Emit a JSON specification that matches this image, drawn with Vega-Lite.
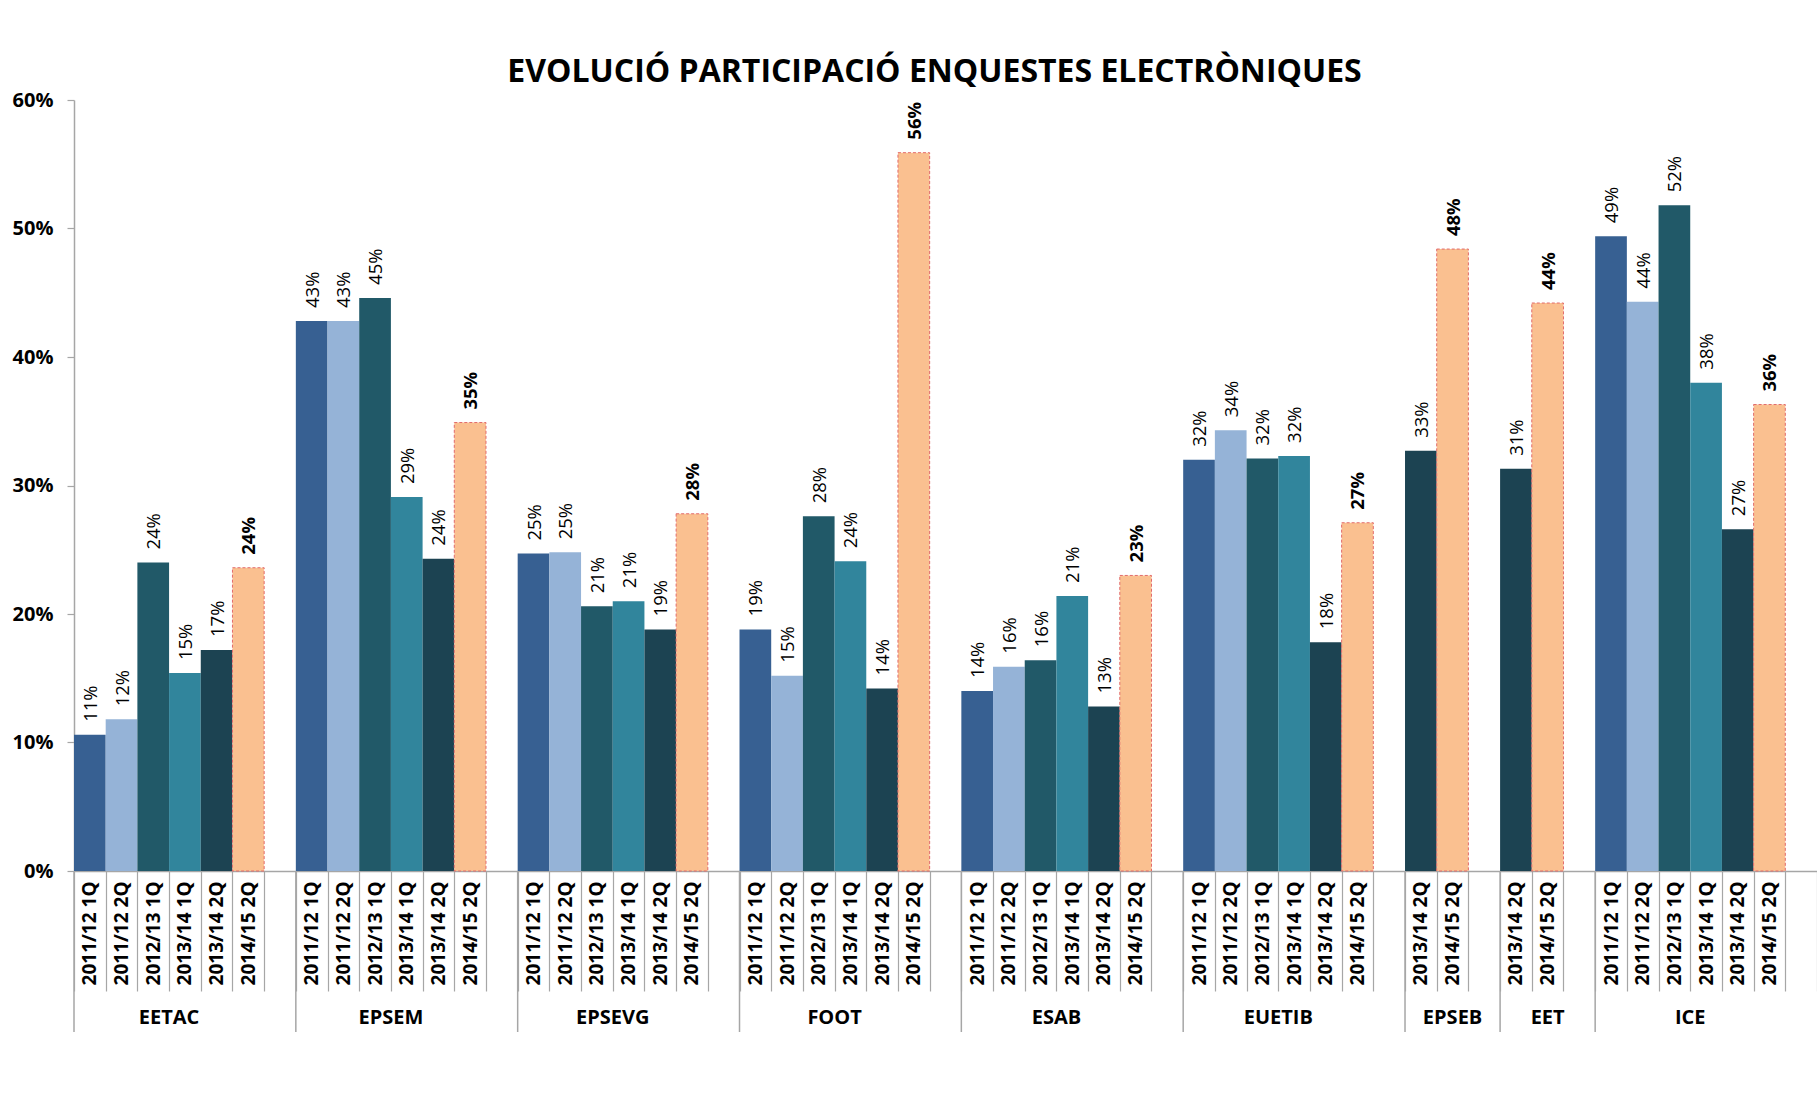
{
  "$schema": "https://vega.github.io/schema/vega-lite/v6.json",
  "width": 1743,
  "height": 771,
  "autosize": {"type": "none"},
  "padding": {"left": 74, "top": 100, "right": 0, "bottom": 226},
  "background": "white",
  "title": {
    "text": "EVOLUCIÓ PARTICIPACIÓ ENQUESTES ELECTRÒNIQUES",
    "font": "Open Sans", "fontSize": 32, "fontWeight": "bold", "color": "#000000",
    "anchor": "middle", "frame": "group", "baseline": "alphabetic", "offset": -24, "dx": -11
  },
  "config": {"view": {"stroke": null}, "font": "Open Sans"},
  "datasets": {
    "bars": [
      {"key": "EETAC|2011/12 1Q", "school": "EETAC", "period": "2011/12 1Q", "value": 0.106},
      {"key": "EETAC|2011/12 2Q", "school": "EETAC", "period": "2011/12 2Q", "value": 0.118},
      {"key": "EETAC|2012/13 1Q", "school": "EETAC", "period": "2012/13 1Q", "value": 0.240},
      {"key": "EETAC|2013/14 1Q", "school": "EETAC", "period": "2013/14 1Q", "value": 0.154},
      {"key": "EETAC|2013/14 2Q", "school": "EETAC", "period": "2013/14 2Q", "value": 0.172},
      {"key": "EETAC|2014/15 2Q", "school": "EETAC", "period": "2014/15 2Q", "value": 0.236},
      {"key": "EPSEM|2011/12 1Q", "school": "EPSEM", "period": "2011/12 1Q", "value": 0.428},
      {"key": "EPSEM|2011/12 2Q", "school": "EPSEM", "period": "2011/12 2Q", "value": 0.428},
      {"key": "EPSEM|2012/13 1Q", "school": "EPSEM", "period": "2012/13 1Q", "value": 0.446},
      {"key": "EPSEM|2013/14 1Q", "school": "EPSEM", "period": "2013/14 1Q", "value": 0.291},
      {"key": "EPSEM|2013/14 2Q", "school": "EPSEM", "period": "2013/14 2Q", "value": 0.243},
      {"key": "EPSEM|2014/15 2Q", "school": "EPSEM", "period": "2014/15 2Q", "value": 0.349},
      {"key": "EPSEVG|2011/12 1Q", "school": "EPSEVG", "period": "2011/12 1Q", "value": 0.247},
      {"key": "EPSEVG|2011/12 2Q", "school": "EPSEVG", "period": "2011/12 2Q", "value": 0.248},
      {"key": "EPSEVG|2012/13 1Q", "school": "EPSEVG", "period": "2012/13 1Q", "value": 0.206},
      {"key": "EPSEVG|2013/14 1Q", "school": "EPSEVG", "period": "2013/14 1Q", "value": 0.210},
      {"key": "EPSEVG|2013/14 2Q", "school": "EPSEVG", "period": "2013/14 2Q", "value": 0.188},
      {"key": "EPSEVG|2014/15 2Q", "school": "EPSEVG", "period": "2014/15 2Q", "value": 0.278},
      {"key": "FOOT|2011/12 1Q", "school": "FOOT", "period": "2011/12 1Q", "value": 0.188},
      {"key": "FOOT|2011/12 2Q", "school": "FOOT", "period": "2011/12 2Q", "value": 0.152},
      {"key": "FOOT|2012/13 1Q", "school": "FOOT", "period": "2012/13 1Q", "value": 0.276},
      {"key": "FOOT|2013/14 1Q", "school": "FOOT", "period": "2013/14 1Q", "value": 0.241},
      {"key": "FOOT|2013/14 2Q", "school": "FOOT", "period": "2013/14 2Q", "value": 0.142},
      {"key": "FOOT|2014/15 2Q", "school": "FOOT", "period": "2014/15 2Q", "value": 0.559},
      {"key": "ESAB|2011/12 1Q", "school": "ESAB", "period": "2011/12 1Q", "value": 0.140},
      {"key": "ESAB|2011/12 2Q", "school": "ESAB", "period": "2011/12 2Q", "value": 0.159},
      {"key": "ESAB|2012/13 1Q", "school": "ESAB", "period": "2012/13 1Q", "value": 0.164},
      {"key": "ESAB|2013/14 1Q", "school": "ESAB", "period": "2013/14 1Q", "value": 0.214},
      {"key": "ESAB|2013/14 2Q", "school": "ESAB", "period": "2013/14 2Q", "value": 0.128},
      {"key": "ESAB|2014/15 2Q", "school": "ESAB", "period": "2014/15 2Q", "value": 0.230},
      {"key": "EUETIB|2011/12 1Q", "school": "EUETIB", "period": "2011/12 1Q", "value": 0.320},
      {"key": "EUETIB|2011/12 2Q", "school": "EUETIB", "period": "2011/12 2Q", "value": 0.343},
      {"key": "EUETIB|2012/13 1Q", "school": "EUETIB", "period": "2012/13 1Q", "value": 0.321},
      {"key": "EUETIB|2013/14 1Q", "school": "EUETIB", "period": "2013/14 1Q", "value": 0.323},
      {"key": "EUETIB|2013/14 2Q", "school": "EUETIB", "period": "2013/14 2Q", "value": 0.178},
      {"key": "EUETIB|2014/15 2Q", "school": "EUETIB", "period": "2014/15 2Q", "value": 0.271},
      {"key": "EPSEB|2013/14 2Q", "school": "EPSEB", "period": "2013/14 2Q", "value": 0.327},
      {"key": "EPSEB|2014/15 2Q", "school": "EPSEB", "period": "2014/15 2Q", "value": 0.484},
      {"key": "EET|2013/14 2Q", "school": "EET", "period": "2013/14 2Q", "value": 0.313},
      {"key": "EET|2014/15 2Q", "school": "EET", "period": "2014/15 2Q", "value": 0.442},
      {"key": "ICE|2011/12 1Q", "school": "ICE", "period": "2011/12 1Q", "value": 0.494},
      {"key": "ICE|2011/12 2Q", "school": "ICE", "period": "2011/12 2Q", "value": 0.443},
      {"key": "ICE|2012/13 1Q", "school": "ICE", "period": "2012/13 1Q", "value": 0.518},
      {"key": "ICE|2013/14 1Q", "school": "ICE", "period": "2013/14 1Q", "value": 0.380},
      {"key": "ICE|2013/14 2Q", "school": "ICE", "period": "2013/14 2Q", "value": 0.266},
      {"key": "ICE|2014/15 2Q", "school": "ICE", "period": "2014/15 2Q", "value": 0.363}
    ],
    "separators": [
      {"key": "EETAC|2011/12 1Q"}, {"key": "EPSEM|2011/12 1Q"}, {"key": "EPSEVG|2011/12 1Q"},
      {"key": "FOOT|2011/12 1Q"}, {"key": "ESAB|2011/12 1Q"}, {"key": "EUETIB|2011/12 1Q"},
      {"key": "EPSEB|2013/14 2Q"}, {"key": "EET|2013/14 2Q"}, {"key": "ICE|2011/12 1Q"}
    ],
    "schools6": [
      {"school": "EETAC", "key": "EETAC|2013/14 1Q"},
      {"school": "EPSEM", "key": "EPSEM|2013/14 1Q"},
      {"school": "EPSEVG", "key": "EPSEVG|2013/14 1Q"},
      {"school": "FOOT", "key": "FOOT|2013/14 1Q"},
      {"school": "ESAB", "key": "ESAB|2013/14 1Q"},
      {"school": "EUETIB", "key": "EUETIB|2013/14 1Q"},
      {"school": "ICE", "key": "ICE|2013/14 1Q"}
    ],
    "schools2": [
      {"school": "EPSEB", "key": "EPSEB|2014/15 2Q"},
      {"school": "EET", "key": "EET|2014/15 2Q"}
    ]
  },
  "layer": [
    {
      "data": {"name": "bars"},
      "mark": {"type": "bar", "strokeDash": [3, 2], "strokeWidth": 1},
      "encoding": {
        "x": {
          "field": "key", "type": "nominal", "title": null, "sort": null,
          "scale": {
            "domain": [
              "EETAC|2011/12 1Q", "EETAC|2011/12 2Q", "EETAC|2012/13 1Q", "EETAC|2013/14 1Q", "EETAC|2013/14 2Q", "EETAC|2014/15 2Q", "EETAC|",
              "EPSEM|2011/12 1Q", "EPSEM|2011/12 2Q", "EPSEM|2012/13 1Q", "EPSEM|2013/14 1Q", "EPSEM|2013/14 2Q", "EPSEM|2014/15 2Q", "EPSEM|",
              "EPSEVG|2011/12 1Q", "EPSEVG|2011/12 2Q", "EPSEVG|2012/13 1Q", "EPSEVG|2013/14 1Q", "EPSEVG|2013/14 2Q", "EPSEVG|2014/15 2Q", "EPSEVG|",
              "FOOT|2011/12 1Q", "FOOT|2011/12 2Q", "FOOT|2012/13 1Q", "FOOT|2013/14 1Q", "FOOT|2013/14 2Q", "FOOT|2014/15 2Q", "FOOT|",
              "ESAB|2011/12 1Q", "ESAB|2011/12 2Q", "ESAB|2012/13 1Q", "ESAB|2013/14 1Q", "ESAB|2013/14 2Q", "ESAB|2014/15 2Q", "ESAB|",
              "EUETIB|2011/12 1Q", "EUETIB|2011/12 2Q", "EUETIB|2012/13 1Q", "EUETIB|2013/14 1Q", "EUETIB|2013/14 2Q", "EUETIB|2014/15 2Q", "EUETIB|",
              "EPSEB|2013/14 2Q", "EPSEB|2014/15 2Q", "EPSEB|",
              "EET|2013/14 2Q", "EET|2014/15 2Q", "EET|",
              "ICE|2011/12 1Q", "ICE|2011/12 2Q", "ICE|2012/13 1Q", "ICE|2013/14 1Q", "ICE|2013/14 2Q", "ICE|2014/15 2Q", "ICE|"
            ],
            "paddingInner": 0, "paddingOuter": 0
          },
          "axis": {
            "labelExpr": "split(datum.value, '|')[1]",
            "labelAngle": 270, "labelAlign": "right", "labelBaseline": "middle",
            "labelFont": "Open Sans", "labelFontSize": 19, "labelFontWeight": "bold", "labelColor": "#000000",
            "labelOverlap": false, "labelPadding": -110,
            "tickBand": "extent", "tickSize": 120, "tickColor": "#A6A6A6", "tickWidth": 1.2,
            "domainColor": "#A6A6A6", "domainWidth": 1.5
          }
        },
        "y": {
          "field": "value", "type": "quantitative", "title": null,
          "scale": {"domain": [0, 0.6], "nice": false},
          "axis": {
            "format": ".0%", "values": [0, 0.1, 0.2, 0.3, 0.4, 0.5, 0.6], "grid": false,
            "tickSize": 7, "tickColor": "#A6A6A6", "tickWidth": 1.2,
            "domainColor": "#A6A6A6", "domainWidth": 1.5,
            "labelPadding": 14, "labelFont": "Open Sans", "labelFontSize": 20, "labelFontWeight": "bold", "labelColor": "#000000"
          }
        },
        "color": {
          "field": "period", "type": "nominal", "legend": null,
          "scale": {
            "domain": ["2011/12 1Q", "2011/12 2Q", "2012/13 1Q", "2013/14 1Q", "2013/14 2Q", "2014/15 2Q"],
            "range": ["#376092", "#95B3D7", "#215968", "#31859C", "#1C4352", "#FAC090"]
          }
        },
        "stroke": {
          "condition": {"test": "datum.period === '2014/15 2Q'", "value": "#E26B6B"},
          "value": null
        },
        "opacity": {"value": 1}
      }
    },
    {
      "data": {"name": "bars"},
      "transform": [{"filter": "datum.period !== '2014/15 2Q'"}],
      "mark": {"type": "text", "angle": 270, "align": "left", "baseline": "middle", "dx": 13, "dy": 1, "font": "Open Sans", "fontSize": 18.5, "color": "#000000"},
      "encoding": {
        "x": {"field": "key", "type": "nominal", "title": null},
        "y": {"field": "value", "type": "quantitative", "title": null},
        "text": {"field": "value", "type": "quantitative", "format": ".0%"}
      }
    },
    {
      "data": {"name": "bars"},
      "transform": [{"filter": "datum.period === '2014/15 2Q'"}],
      "mark": {"type": "text", "angle": 270, "align": "left", "baseline": "middle", "dx": 13, "dy": 1, "font": "Open Sans", "fontSize": 18.5, "fontWeight": "bold", "color": "#000000"},
      "encoding": {
        "x": {"field": "key", "type": "nominal", "title": null},
        "y": {"field": "value", "type": "quantitative", "title": null},
        "text": {"field": "value", "type": "quantitative", "format": ".0%"}
      }
    },
    {
      "data": {"name": "separators"},
      "mark": {"type": "rule", "color": "#A6A6A6", "strokeWidth": 1.5},
      "encoding": {
        "x": {"field": "key", "type": "nominal", "bandPosition": 0, "title": null},
        "y": {"datum": 0},
        "y2": {"datum": -0.1253}
      }
    },
    {
      "data": {"name": "schools6"},
      "mark": {"type": "text", "align": "center", "baseline": "middle", "font": "Open Sans", "fontSize": 20, "fontWeight": "bold", "color": "#000000"},
      "encoding": {
        "x": {"field": "key", "type": "nominal", "bandPosition": 0, "title": null},
        "y": {"datum": -0.1144},
        "text": {"field": "school", "type": "nominal"}
      }
    },
    {
      "data": {"name": "schools2"},
      "mark": {"type": "text", "align": "center", "baseline": "middle", "font": "Open Sans", "fontSize": 20, "fontWeight": "bold", "color": "#000000"},
      "encoding": {
        "x": {"field": "key", "type": "nominal", "bandPosition": 0.5, "title": null},
        "y": {"datum": -0.1144},
        "text": {"field": "school", "type": "nominal"}
      }
    }
  ]
}
